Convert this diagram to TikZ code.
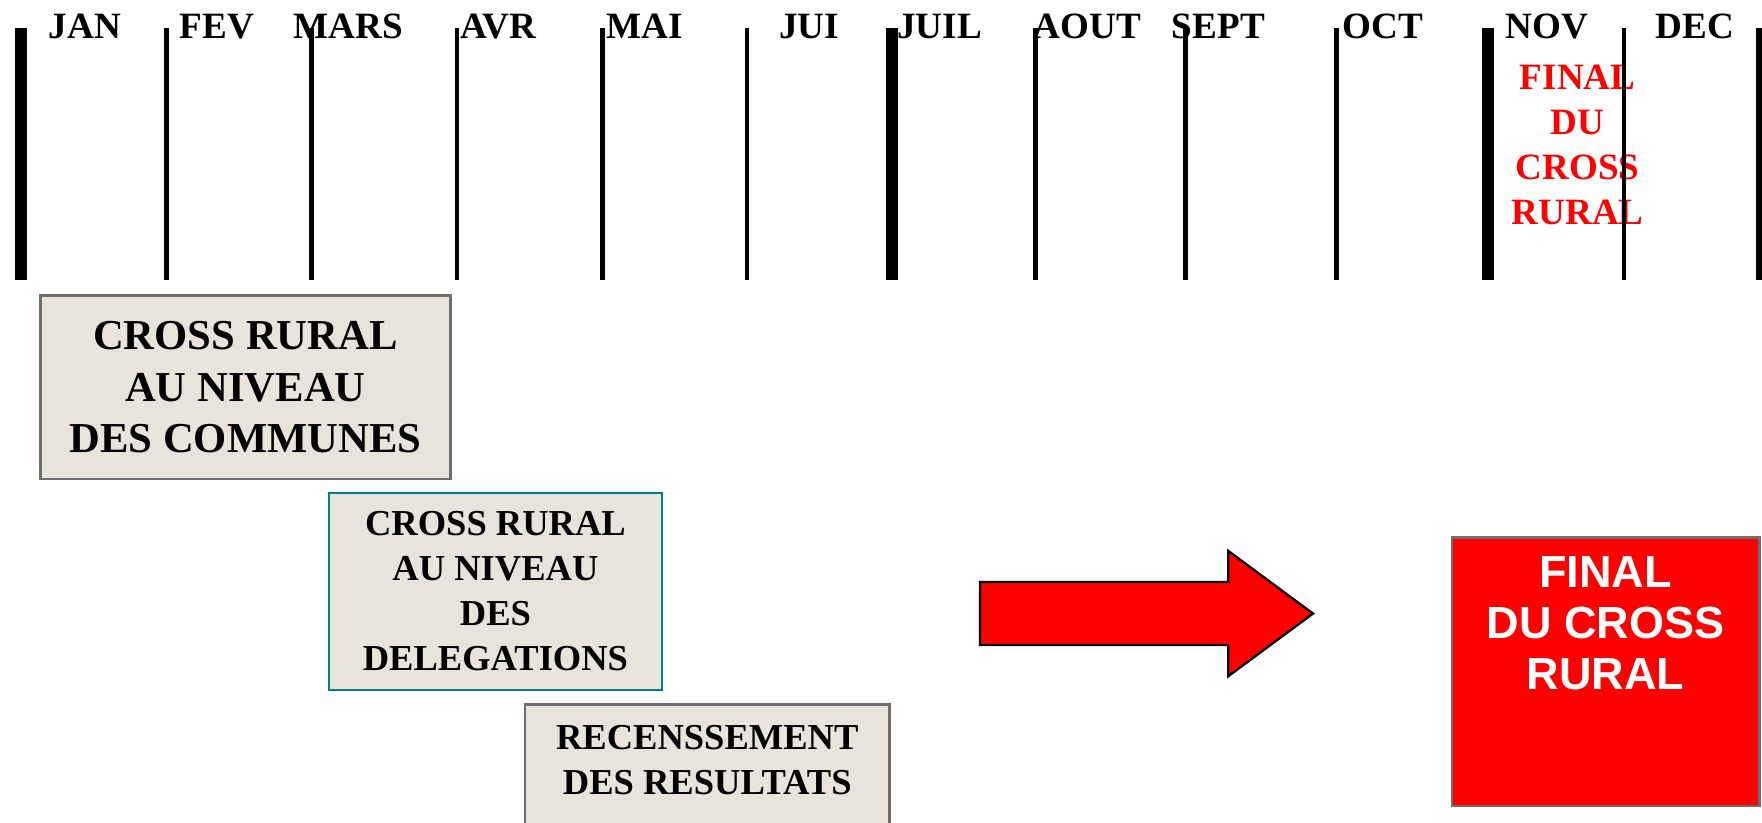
\documentclass[tikz,border=0pt]{standalone}
\usepackage{fontspec}
\setmainfont{Liberation Serif}
\newfontfamily\arialfont{Liberation Sans}
\usepackage{tikz}
\usetikzlibrary{positioning, shapes.arrows}
\definecolor{stagefill}{RGB}{232,228,220}
\definecolor{stagegray}{RGB}{110,110,110}
\definecolor{stageteal}{RGB}{0,128,128}

\begin{document}
\begin{tikzpicture}
  [x=0.02cm,y=-0.02cm,
   monthlabel/.style={anchor=base,inner sep=0pt,font=\bfseries\fontsize{18.8}{22.8}\selectfont},
   thinbar/.style={line width=0.08cm},
   thickbar/.style={line width=0.22cm},
   stagebox/.style={draw=stagegray,line width=0.04cm,fill=stagefill,rectangle,inner sep=0pt,align=center,font=\bfseries\fontsize{18.5}{22.8}\selectfont},
   finalbox/.style={draw=stagegray,line width=0.04cm,fill=red,rectangle,inner sep=0pt},
   blockarrow/.style={single arrow,draw=black,line width=0.04cm,fill=red,inner xsep=0pt,inner ysep=0.54cm,minimum height=5.93cm,single arrow head extend=0.557cm,single arrow tip angle=73}]
  \clip (0,0) rectangle (1568,731.5);
  \foreach \x/\m in {75.7/JAN,193/FEV,310/MARS,443.7/AVR,574/MAI,720/JUI,836.2/JUIL,967.6/AOUT,1084.2/SEPT,1230.6/OCT,1376.5/NOV,1508.2/DEC}
    \node (month\m) at (\x,34.5) [monthlabel] {\m};
  \node (finalnote) at (1404,57.8) [anchor=north,inner sep=0pt,align=center,text=red,font=\bfseries\fontsize{18.8}{22.8}\selectfont] {FINAL\\DU\\CROSS\\RURAL};
  \foreach \x in {148.3,277.2,406.6,536,664.9,921.5,1054.9,1189.5,1445.3}
    \draw [thinbar] (\x,25) -- (\x,249.5);
  \foreach \x in {18.7,794,1324.2,1568}
    \draw [thickbar] (\x,25) -- (\x,249.5);
  \node (communesbox) at (218.4,344.5) [stagebox,minimum width=7.30cm,minimum height=3.26cm,font=\bfseries\fontsize{21.6}{26.2}\selectfont] {CROSS RURAL\\AU NIVEAU\\DES COMMUNES};
  \node (delegationsbox) at (440.9,526.3) [stagebox,draw=stageteal,minimum width=5.93cm,minimum height=3.51cm] {CROSS RURAL\\AU NIVEAU\\DES\\DELEGATIONS};
  \node (resultatsbox) at (629.4,698.5) [stagebox,minimum width=6.49cm,minimum height=2.86cm] {};
  \node (resultatslabel) [below=0.388cm of resultatsbox.north,inner sep=0pt,align=center,font=\bfseries\fontsize{18.5}{22.4}\selectfont] {RECENSSEMENT\\DES RESULTATS};
  \node (stagearrow) at (871,546) [blockarrow,anchor=tail] {};
  \node (finalbox) at (1428.8,597.75) [finalbox,minimum width=5.48cm,minimum height=4.78cm] {};
  \node (finallabel) [below=0.344cm of finalbox.north,inner sep=0pt,align=center,text=white,font=\arialfont\bfseries\fontsize{22.8}{26}\selectfont] {FINAL\\DU CROSS\\RURAL};
\end{tikzpicture}
\end{document}
